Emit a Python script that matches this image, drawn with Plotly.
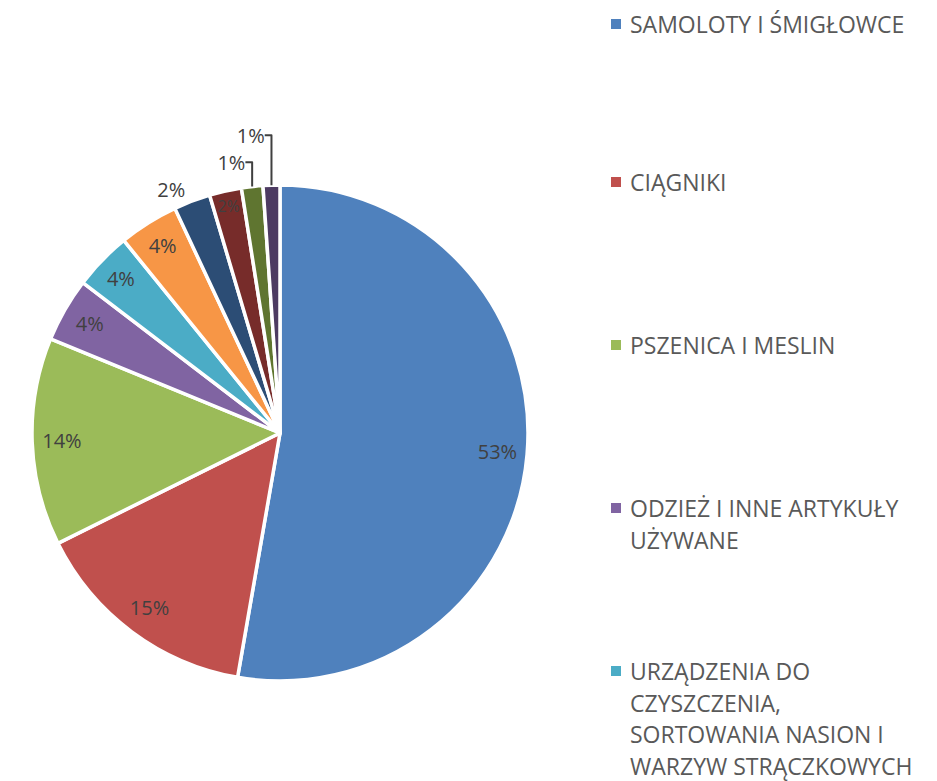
import plotly.graph_objects as go

labels = ["SAMOLOTY I ŚMIGŁOWCE", "CIĄGNIKI", "PSZENICA I MESLIN",
          "ODZIEŻ I INNE ARTYKUŁY UŻYWANE",
          "URZĄDZENIA DO CZYSZCZENIA, SORTOWANIA NASION I WARZYW STRĄCZKOWYCH",
          "Pozycja 6", "Pozycja 7", "Pozycja 8", "Pozycja 9", "Pozycja 10"]
values = [53.0, 15.0, 13.6, 4.2, 3.8, 3.9, 2.4, 2.1, 1.4, 1.1]
colors = ["#4F81BD", "#C0504D", "#9BBB59", "#8064A2", "#4BACC6",
          "#F79646", "#2C4D75", "#772C2A", "#5F7530", "#4D3B62"]
textpos = ["inside"] * 6 + ["outside", "inside", "outside", "outside"]

legend_lines = [["SAMOLOTY I ŚMIGŁOWCE"], ["CIĄGNIKI"], ["PSZENICA I MESLIN"],
                ["ODZIEŻ I INNE ARTYKUŁY", "UŻYWANE"],
                ["URZĄDZENIA DO", "CZYSZCZENIA,", "SORTOWANIA NASION I", "WARZYW STRĄCZKOWYCH"]]

W, H = 937, 781
OFF = 8  # page body margin
FONT = "Open Sans"
dom = dict(x=[(32 - OFF) / W, (528 - OFF) / W], y=[1 - (684 - OFF) / H, 1 - (182 - OFF) / H])

fig = go.Figure()
# slices
fig.add_trace(go.Pie(
    labels=labels, values=values, sort=False, direction="clockwise", rotation=0,
    marker=dict(colors=colors, line=dict(color="white", width=3.5)),
    textinfo="none", domain=dom, showlegend=False, hoverinfo="label+percent",
))
# data labels (transparent ring so inside labels sit near the rim)
fig.add_trace(go.Pie(
    labels=labels, values=values, sort=False, direction="clockwise", rotation=0,
    hole=0.76,
    marker=dict(colors=["rgba(0,0,0,0)"] * len(values), line=dict(width=0)),
    texttemplate="%{percent:.0%}", textposition=textpos,
    insidetextorientation="horizontal",
    textfont=dict(family=FONT, size=20, color="#404040"),
    outsidetextfont=dict(family=FONT, size=20, color="#404040"),
    domain=dom, showlegend=False, hoverinfo="skip",
))

y0, gap, lh = 19 - OFF, 163, 31.5
for i, lines in enumerate(legend_lines):
    yc = y0 + i * gap
    if i == 0:
        yc += 5  # keep the accented first line fully inside the page
    fig.add_shape(type="rect", xref="paper", yref="paper",
                  x0=(611 - OFF) / W, x1=(621 - OFF) / W,
                  y0=1 - (yc + 5) / H, y1=1 - (yc - 5) / H,
                  fillcolor=colors[i], line=dict(width=0))
    for j, t in enumerate(lines):
        fig.add_annotation(text=t, xref="paper", yref="paper",
                           x=(628 - OFF) / W, y=1 - (yc + j * lh) / H,
                           xanchor="left", yanchor="middle", showarrow=False,
                           font=dict(family=FONT, size=23, color="#595959"))

fig.update_layout(width=W, height=H, margin=dict(l=0, r=0, t=0, b=0),
                  paper_bgcolor="white", plot_bgcolor="white")
fig.write_html("out.html")
